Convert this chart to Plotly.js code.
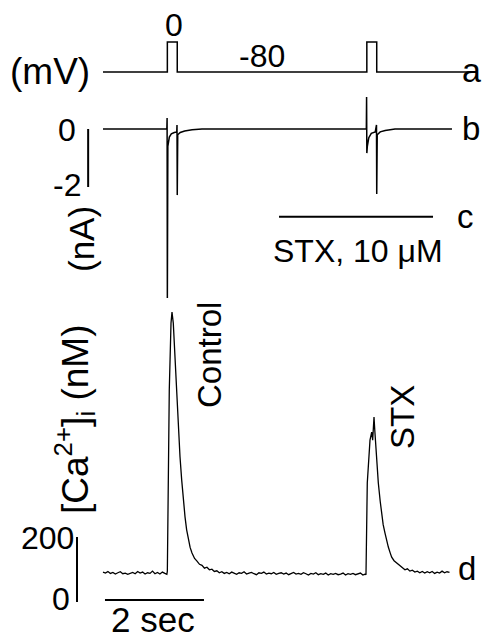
<!DOCTYPE html>
<html>
<head>
<meta charset="utf-8">
<script src="https://cdn.plot.ly/plotly-3.0.1.min.js"></script>
<style>html,body{margin:0;padding:0;background:#fff;}#chart{width:483px;height:641px;}</style>
</head>
<body>
<div id="chart"></div>
<script>
// ---- Data (time in s) ----
// a: command voltage (mV)
const vTime = [0, 1.30, 1.30, 1.50, 1.50, 5.33, 5.33, 5.53, 5.53, 7.42];
const vVal  = [-80, -80, 0, 0, -80, -80, 0, 0, -80, -80];

// b: membrane current (nA)
const iTime = [0, 1.29, 1.295, 1.30, 1.31, 1.34, 1.38, 1.44, 1.49, 1.495, 1.50, 1.51, 1.56, 1.65, 1.80, 2.00,
               5.32, 5.325, 5.33, 5.34, 5.37, 5.42, 5.50, 5.525, 5.53, 5.54, 5.60, 5.70, 5.90, 7.05];
const iVal  = [0, 0, 0.38, -5.83, -0.60, -0.28, -0.17, -0.12, -0.10, 0.14, -2.28, -0.20, -0.12, -0.07, -0.03, 0,
               0, 1.10, -0.83, -0.60, -0.30, -0.15, -0.10, 0.14, -2.24, -0.20, -0.10, -0.05, 0, 0];

// d: [Ca2+]i (nM)
const caTime = [0.00,0.05,0.10,0.15,0.20,0.25,0.30,0.35,0.40,0.45,0.50,0.55,0.60,0.65,0.70,0.75,0.80,0.85,0.90,0.95,
  1.00,1.05,1.10,1.15,1.20,1.25,1.29,
  1.30,1.319,1.339,1.374,1.394,1.42,1.45,1.49,1.52,1.556,1.59,1.62,1.657,1.69,1.723,1.76,1.798,1.85,1.899,1.95,
  2.00,2.05,2.10,2.15,2.20,2.25,2.30,2.35,2.40,2.45,2.50,
  2.55,2.60,2.65,2.70,2.75,2.80,2.85,2.90,2.95,3.00,3.05,3.10,3.15,3.20,3.25,3.30,3.35,3.40,3.45,3.50,
  3.55,3.60,3.65,3.70,3.75,3.80,3.85,3.90,3.95,4.00,4.05,4.10,4.15,4.20,4.25,4.30,4.35,4.40,4.45,4.50,
  4.55,4.60,4.65,4.70,4.75,4.80,4.85,4.90,4.95,5.00,5.05,5.10,5.15,5.20,5.25,5.30,
  5.313,5.339,5.394,5.428,5.448,5.462,5.475,5.49,5.515,5.54,5.562,5.60,5.63,5.66,5.697,5.73,5.764,5.80,5.832,5.88,
  5.933,5.98,6.02,6.061,6.10,6.15,6.20,6.25,6.30,6.35,6.40,6.45,6.50,6.55,6.60,6.65,6.70,6.75,6.80,6.85,6.90,6.95,7.00];
const caVal = [92,89,94,88,91,86,90,93,87,89,85,88,91,87,94,89,92,86,90,88,
  95,87,91,86,92,88,85,
  95,345,652,858,892,858,760,652,545,446,375,318,262,222,191,168,151,134,126,116,
  113,104,107,99,101,94,96,90,93,88,91,
  87,92,89,85,90,88,93,86,89,91,87,84,90,88,92,86,89,87,91,85,
  88,90,86,89,84,88,91,86,88,85,90,87,83,88,86,90,84,87,85,89,
  83,87,85,88,84,86,89,83,87,85,88,84,86,89,83,86,
  84,366,498,523,498,540,569,530,468,410,366,310,262,238,212,188,169,152,138,127,
  120,112,109,104,99,102,95,98,92,95,90,94,89,93,90,94,88,92,89,95,90,93,91];

// scale bars
const iBarTime = [-0.30, -0.30];  const iBarVal = [0, -2];      const iBarLabels = ["0", "-2"];
const caBarTime = [-0.525, -0.525]; const caBarVal = [0, 200];  const caBarLabels = ["0", "200"];
const tBarTime = [0.04, 2.04];    const tBarVal = [6, 6];       const tBarLabel = "2 sec";
const stxBarTime = [3.556, 6.667]; const stxBarVal = [-3.03, -3.03]; const stxBarLabel = "STX, 10 μM";
const vLevelLabels = ["0", "-80"];
const traceLetters = ["a", "b", "c", "d"];

const W = 483, H = 641;
const FAM = "Liberation Sans, Arial, sans-serif";
function font(size) { return {family: FAM, size: size, color: "#000"}; }
const LINE = {color: "#000", width: 1.5};

const traces = [
  {x: vTime, y: vVal, yaxis: "y", mode: "lines", line: LINE, hoverinfo: "skip"},
  {x: iTime, y: iVal, yaxis: "y2", mode: "lines", line: LINE, hoverinfo: "skip"},
  {x: caTime, y: caVal, yaxis: "y3", mode: "lines", line: {color: "#000", width: 1.3}, hoverinfo: "skip"},
  {x: iBarTime, y: iBarVal, yaxis: "y2", mode: "lines", line: {color: "#000", width: 2}, hoverinfo: "skip"},
  {x: caBarTime, y: caBarVal, yaxis: "y3", mode: "lines", line: {color: "#000", width: 2}, hoverinfo: "skip"},
  {x: tBarTime, y: tBarVal, yaxis: "y3", mode: "lines", line: {color: "#000", width: 2}, hoverinfo: "skip"},
  {x: stxBarTime, y: stxBarVal, yaxis: "y2", mode: "lines", line: {color: "#000", width: 2}, hoverinfo: "skip"}
];

function ann(text, px, py, size, opts) {
  return Object.assign({text: text, x: px / W, y: 1 - py / H, xref: "paper", yref: "paper",
    xanchor: "center", yanchor: "middle", showarrow: false, font: font(size)}, opts || {});
}

const annotations = [
  ann("(mV)", 50, 72, 37),
  ann(vLevelLabels[0], 174, 25, 32),
  ann(vLevelLabels[1], 262, 56, 32),
  ann(traceLetters[0], 483, 70, 34, {xanchor: "right"}),
  ann(traceLetters[1], 471, 128, 33),
  ann(traceLetters[2], 465, 216, 33),
  ann(traceLetters[3], 467, 568, 33),
  ann(iBarLabels[0], 67, 130, 32),
  ann(iBarLabels[1], 67, 185, 32),
  ann("(nA)", 82, 239, 35, {textangle: -90}),
  ann(stxBarLabel, 358, 251, 32),
  ann("Control", 209, 355, 33, {textangle: -90}),
  ann("STX", 402, 417, 33, {textangle: -90}),
  ann("[Ca<sup>2+</sup>]<sub>i</sub> (nM)", 74, 420, 37, {textangle: -90}),
  ann(caBarLabels[1], 47, 538, 32),
  ann(caBarLabels[0], 61, 599, 32),
  ann(tBarLabel, 153, 619, 35)
];

const hidden = {visible: false, showgrid: false, zeroline: false, fixedrange: true};
const layout = {
  width: W, height: H,
  margin: {l: 0, r: 0, t: 0, b: 0, pad: 0},
  paper_bgcolor: "#fff", plot_bgcolor: "#fff",
  showlegend: false,
  xaxis: Object.assign({range: [-2.0808, 7.6768]}, hidden),
  yaxis: Object.assign({range: [-1597.3, 112], domain: [0, 1]}, hidden),
  yaxis2: Object.assign({range: [-17.655, 4.448], overlaying: "y"}, hidden),
  yaxis3: Object.assign({range: [-120, 1852.3], overlaying: "y"}, hidden),
  annotations: annotations
};

Plotly.newPlot("chart", traces, layout, {staticPlot: true, displayModeBar: false});
</script>
</body>
</html>
